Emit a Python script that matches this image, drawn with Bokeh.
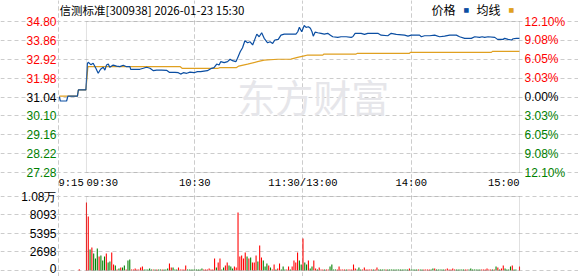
from bokeh.plotting import figure
from bokeh.models import (Range1d, FixedTicker, Label, LabelSet, ColumnDataSource,
                          BoxAnnotation, Grid)
from bokeh.embed import file_html
from bokeh.resources import INLINE
from bokeh.core.properties import value

# ---------------- data ----------------
title_text = "信测标准[300938] 2026-01-23 15:30"
prev_close = 31.04

price_ticks = [27.28, 28.22, 29.16, 30.10, 31.04, 31.98, 32.92, 33.86, 34.80]
price_labels = ["27.28", "28.22", "29.16", "30.10", "31.04", "31.98", "32.92", "33.86", "34.80"]
pct_labels = ["12.10%", "9.08%", "6.05%", "3.03%", "0.00%", "3.03%", "6.05%", "9.08%", "12.10%"]

time_ticks = [-15.5, 0, 60, 120, 180, 240]
time_labels = ["9:15", "09:30", "10:30", "11:30/13:00", "14:00", "15:00"]
time_align = ["left", "left", "center", "center", "center", "right"]
vgrid_ticks = [-15.5, 60, 120, 180]

# minutes from 09:30 (13:00 == 120); negatives are the 9:15-9:30 auction
price_t = [-15, -14.5, -11, -10.3, -5, -4.5, -0.3, 0.5, 1, 2.4, 3.7, 5.2, 6.5, 7.8, 9.3, 10.2,
           11.1, 12.1, 12.9, 14.8, 16.7, 18.5, 20.4, 22.2, 24.1, 24.5, 29.6, 31.5, 33.3, 35.2,
           37.1, 38.9, 41.7, 44.4, 45.9, 49.1, 50.9, 52.2, 53.7, 55.6, 57.4, 59.6, 61.5, 63.3,
           67, 68.9, 70.7, 72.2, 73.5, 74.4, 76.3, 78.2, 79.6, 80.9, 82.8, 83.7, 85.2, 86.5,
           87.8, 89.3, 90.7, 92.1, 93.3, 94.4, 95.7, 97.1, 98.5, 100.4, 101.8, 103.2, 104.4,
           106.3, 107.8, 109.6, 116.1, 117.1, 118, 119.3, 120.7, 121.7, 123, 124.1, 125, 125.7,
           126.7, 128.2, 130, 131.8, 133.7, 135.2, 136.5, 139.3, 141.1, 143.9, 146.7, 147.6,
           148.9, 152.2, 154.1, 155.9, 161.5, 163.3, 167, 168.9, 171.7, 176.3, 178.2, 180,
           184.6, 185.6, 187.4, 190.2, 193, 195.7, 198.5, 201.3, 205, 206.8, 209.6, 213.3,
           215.2, 217.9, 219.3, 220.7, 222.6, 226.3, 227.8, 230.9, 231.8, 233.7, 235.6, 236.5,
           238.3, 240]
price_p = [31.06, 30.84, 30.84, 31.08, 31.08, 31.39, 31.39, 32.70, 32.77, 32.65, 32.72, 32.47,
           32.22, 32.42, 32.52, 32.38, 32.63, 32.68, 32.52, 32.63, 32.58, 32.55, 32.62, 32.55,
           32.55, 32.42, 32.42, 32.47, 32.52, 32.47, 32.35, 32.38, 32.38, 32.37, 32.27, 32.27,
           32.25, 32.18, 32.25, 32.22, 32.28, 32.25, 32.30, 32.30, 32.35, 32.45, 32.50, 32.68,
           32.63, 32.80, 32.75, 32.80, 32.92, 32.85, 32.80, 32.97, 33.29, 33.49, 33.84, 33.74,
           33.79, 33.63, 33.91, 34.17, 34.04, 34.24, 33.96, 33.74, 33.79, 33.71, 33.88, 33.91,
           34.12, 34.17, 34.17, 34.29, 34.51, 34.29, 34.60, 34.51, 34.54, 34.46, 34.29, 34.07,
           34.27, 34.24, 34.21, 34.17, 34.21, 34.12, 34.04, 34.01, 34.04, 34.04, 34.01, 34.04,
           34.21, 34.21, 34.16, 34.21, 34.21, 34.12, 34.09, 34.21, 34.16, 34.12, 34.07, 34.12,
           34.12, 34.04, 34.09, 34.09, 34.12, 34.04, 34.07, 34.12, 34.12, 34.04, 33.96, 33.96,
           34.04, 34.01, 34.04, 34.01, 34.04, 34.01, 33.91, 33.91, 33.96, 33.91, 33.88, 33.94,
           33.96, 33.96]

avg_t = [-15, -5, -4.5, -0.3, 0.8, 52, 53, 73, 74, 83, 84.4, 89.3, 94.8, 98.5, 106, 113.3,
         117, 120.7, 122.6, 131, 131.5, 149.4, 150, 179, 179.5, 224.4, 225, 240]
avg_p = [31.08, 31.08, 31.39, 31.39, 32.55, 32.55, 32.47, 32.47, 32.50, 32.50, 32.58, 32.68,
         32.80, 32.88, 32.92, 32.93, 33.01, 33.09, 33.13, 33.13, 33.18, 33.18, 33.21, 33.21,
         33.26, 33.26, 33.31, 33.31]

vol_ticks = [0, 2698, 5395, 8093, 10790]
vol_labels = ["0", "2698", "5395", "8093", "1.08万"]

# volume per minute: auction bar at -4, then 09:30 (0) ... 15:00 (240)
vol_t = [-4] + list(range(0, 241))
vol_v = [180,
         9914, 7873, 3062, 3353, 2479, 1750, 3208, 2041, 2187, 1458,
         2041, 2479, 1166, 1312, 2624, 875, 729, 146, 292, 437,
         437, 729, 146, 1458, 1604, 146, 146, 292, 146, 146,
         437, 583, 146, 146, 146, 292, 146, 146, 146, 146,
         146, 146, 146, 146, 146, 292, 1020, 437, 437, 146,
         146, 437, 146, 146, 146, 729, 146, 146, 146, 146,
         146, 146, 146, 146, 292, 146, 146, 146, 292, 146,
         146, 1750, 437, 1166, 1750, 146, 437, 729, 1166, 729,
         583, 292, 583, 437, 8457, 2041, 2187, 1750, 2624, 2041,
         1750, 1895, 1166, 1166, 2187, 1312, 3645, 1895, 1458, 583,
         1020, 729, 437, 146, 875, 146, 292, 1020, 146, 583,
         146, 146, 583, 146, 583, 1458, 1166, 2624, 1458, 875,
         4666, 1166, 875, 1458, 292, 583, 1458, 292, 146, 437,
         146, 146, 146, 146, 146, 583, 875, 146, 146, 146,
         583, 146, 146, 146, 146, 146, 146, 146, 875, 292,
         146, 437, 146, 146, 437, 146, 146, 146, 146, 146,
         146, 437, 146, 146, 146, 146, 146, 146, 146, 146,
         146, 146, 146, 146, 146, 146, 146, 146, 146, 292,
         146, 146, 146, 146, 146, 146, 146, 146, 146, 146,
         146, 146, 292, 292, 146, 146, 146, 146, 146, 146,
         292, 146, 146, 292, 146, 146, 146, 146, 146, 146,
         146, 146, 146, 292, 146, 146, 146, 146, 146, 146,
         146, 146, 292, 146, 146, 146, 146, 583, 437, 146,
         292, 729, 292, 146, 146, 583, 729, 146, 146, 0,
         583]
vol_dir = ["r",
           "r", "r", "g", "r", "g", "g", "g", "r", "g", "g",
           "g", "r", "g", "g", "r", "r", "g", "r", "g", "r",
           "g", "g", "r", "g", "g", "r", "r", "r", "r", "r",
           "r", "r", "g", "g", "g", "g", "g", "r", "g", "r",
           "g", "g", "r", "g", "g", "g", "r", "r", "g", "g",
           "g", "r", "r", "r", "r", "r", "g", "g", "g", "g",
           "g", "g", "g", "g", "g", "r", "r", "r", "r", "r",
           "r", "r", "g", "r", "r", "g", "g", "r", "r", "g",
           "g", "g", "r", "r", "r", "r", "r", "r", "r", "g",
           "r", "g", "r", "r", "r", "g", "r", "r", "g", "g",
           "g", "r", "g", "r", "r", "g", "r", "r", "g", "g",
           "g", "r", "r", "g", "r", "r", "r", "r", "g", "g",
           "r", "g", "g", "r", "g", "g", "r", "r", "g", "r",
           "r", "r", "g", "r", "r", "g", "g", "g", "g", "r",
           "r", "r", "r", "r", "g", "r", "r", "r", "r", "r",
           "g", "g", "g", "r", "r", "r", "r", "r", "r", "g",
           "r", "r", "g", "g", "g", "g", "r", "g", "g", "g",
           "g", "g", "g", "g", "g", "g", "g", "g", "g", "r",
           "g", "g", "g", "g", "r", "g", "g", "r", "r", "r",
           "r", "g", "g", "r", "g", "g", "g", "g", "g", "r",
           "r", "r", "r", "r", "r", "g", "g", "g", "g", "g",
           "r", "r", "g", "g", "g", "g", "g", "g", "g", "r",
           "r", "r", "r", "r", "r", "g", "r", "g", "r", "g",
           "r", "r", "g", "g", "g", "g", "r", "g", "g", "g",
           "r"]

# ---------------- layout (pixels in the 578x276 canvas) ----------------
W, H = 578, 276
PX_L, PX_R = 58, 519          # left/right edge of the plotting area
PRICE_TOP, PRICE_BOT = 21, 172
VOL_TOP, VOL_BOT = 196, 270

RED = "#ff0000"
GREEN = "#008000"
GRID = "#cccccc"
FRAME = "#999999"
BLUE = "#0b4ea2"
GOLD = "#e0a020"
NUM_FONT = "Liberation Sans"
CJK_FONT = "Noto Sans CJK SC"
TIME_FONT = "Liberation Mono"

x_start, x_end = time_ticks[0], time_ticks[-1]
kx = (PX_R - PX_L) / (x_end - x_start)
xr = Range1d(x_start - PX_L / kx, x_end + (W - PX_R) / kx)

p_lo, p_hi = price_ticks[0], price_ticks[-1]
ky = (PRICE_BOT - PRICE_TOP) / (p_hi - p_lo)
yr = Range1d(p_lo - (H - PRICE_BOT) / ky, p_hi + PRICE_TOP / ky)

v_lo, v_hi = vol_ticks[0], vol_ticks[-1]
kv = (VOL_BOT - VOL_TOP) / (v_hi - v_lo)
vr = Range1d(v_lo - (H - VOL_BOT) / kv, v_hi + VOL_TOP / kv)

p = figure(width=W, height=H, output_backend="svg", toolbar_location=None,
           x_range=xr, y_range=yr, x_axis_location=None, y_axis_location=None,
           min_border=0)
p.extra_y_ranges = {"vol": vr}
p.outline_line_color = None
p.background_fill_color = "white"
p.border_fill_color = "white"
p.grid.visible = False

def add_grids(ticks, lo, hi, rname):
    for dim, tk, bnd in ((1, ticks, (x_start, x_end)), (0, vgrid_ticks, (lo, hi))):
        g = Grid(dimension=dim, ticker=FixedTicker(ticks=tk), bounds=bnd,
                 y_range_name=rname, grid_line_color=GRID, grid_line_dash="4 3",
                 grid_line_width=1)
        p.add_layout(g)
    p.add_layout(BoxAnnotation(left=0, right=x_end, bottom=lo, top=hi, y_range_name=rname,
                               fill_color=None, line_color=FRAME, line_width=1))

add_grids(price_ticks, p_lo, p_hi, "default")
add_grids(vol_ticks, v_lo, v_hi, "vol")

# watermark
p.add_layout(Label(x=83.5, y=prev_close, text="东方财富", text_font=CJK_FONT,
                   text_font_size="38px", text_color="#e6e6ea", y_offset=1.5,
                   text_baseline="middle", text_align="left", level="underlay"))

p.line(avg_t, avg_p, line_color=GOLD, line_width=1.2)
p.line(price_t, price_p, line_color=BLUE, line_width=1.2)

bar_colors = [RED if d == "r" else GREEN for d in vol_dir]
p.vbar(x=vol_t, top=vol_v, bottom=0, width=0.6, fill_color=bar_colors, line_color=None,
       y_range_name="vol")

def level_color(v):
    if abs(v - prev_close) < 1e-6:
        return "#000000"
    return RED if v > prev_close else GREEN

colors = [level_color(v) for v in price_ticks]
left_src = ColumnDataSource(dict(x=[x_start] * len(price_ticks), y=price_ticks,
                                 text=price_labels, color=colors))
right_src = ColumnDataSource(dict(x=[x_end] * len(price_ticks), y=price_ticks,
                                  text=pct_labels, color=colors))
p.add_layout(LabelSet(x="x", y="y", text="text", source=left_src, text_color="color",
                      x_offset=-2, text_align="right", text_baseline="middle",
                      text_font=value(NUM_FONT), text_font_size="12px"))
p.add_layout(LabelSet(x="x", y="y", text="text", source=right_src, text_color="color",
                      x_offset=5, text_align="left", text_baseline="middle",
                      text_font=value(NUM_FONT), text_font_size="12px"))

for t, lab, al in zip(time_ticks, time_labels, time_align):
    p.add_layout(Label(x=t, y=p_lo, text=lab, text_align=al, text_baseline="middle",
                       y_offset=-10, text_font=TIME_FONT, text_font_size="10.5px",
                       text_color="#000000"))

vol_yoff = [2, 0, 0, 0, 0]
vsrc = ColumnDataSource(dict(x=[x_start] * len(vol_ticks), y=vol_ticks, text=vol_labels,
                             yoff=vol_yoff))
p.add_layout(LabelSet(x="x", y="y", text="text", source=vsrc, text_color="#000000",
                      x_offset=-2, y_offset="yoff", text_align="right", text_baseline="middle",
                      text_font=value(NUM_FONT), text_font_size="12px", y_range_name="vol"))

# header
p.add_layout(Label(x=x_start, y=p_hi, text=title_text, x_offset=1, y_offset=12,
                   text_baseline="middle", text_align="left", text_font=CJK_FONT,
                   text_font_size="11.5px", text_color="#000000"))
legend_items = [("价格", None, -88), ("■", BLUE, -56), ("均线", None, -43), ("■", GOLD, -11)]
for txt, col, off in legend_items:
    if col is None:
        p.add_layout(Label(x=x_end, y=p_hi, text=txt, x_offset=off, y_offset=12,
                           text_baseline="middle", text_align="left", text_font=CJK_FONT,
                           text_font_size="12px", text_color="#000000"))
    else:
        p.add_layout(Label(x=x_end, y=p_hi, text=txt, x_offset=off, y_offset=12,
                           text_baseline="middle", text_align="left", text_font="DejaVu Sans",
                           text_font_size="6px", text_color=col))

open("out.html", "w").write(file_html(p, INLINE))
